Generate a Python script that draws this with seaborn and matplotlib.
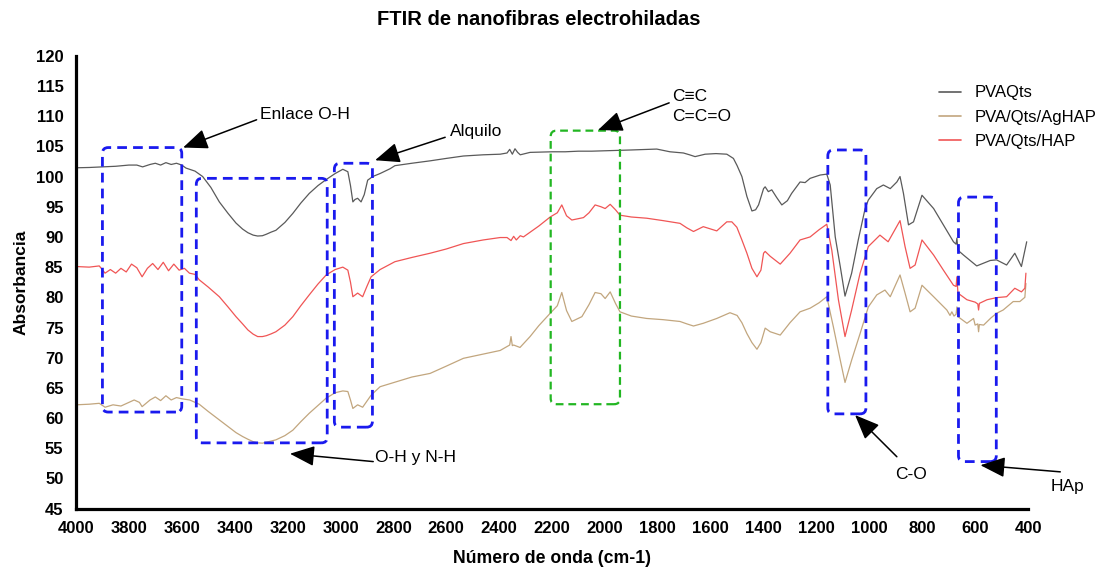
import matplotlib
matplotlib.use("Agg")
import matplotlib.pyplot as plt
from matplotlib.patches import FancyBboxPatch
import seaborn as sns
import pandas as pd

# ---------------- data ----------------
series_names = ["PVAQts", "PVA/Qts/AgHAP", "PVA/Qts/HAP"]

wn_pvaqts = [4000, 3950, 3900, 3850, 3800, 3770, 3748, 3720, 3700, 3680, 3660, 3640, 3620, 3600,
             3584, 3550, 3521, 3490, 3458, 3425, 3395, 3370, 3350, 3330, 3313, 3295, 3280, 3262,
             3244, 3210, 3180, 3150, 3118, 3085, 3054, 3020, 2991, 2972, 2962, 2953, 2945, 2935,
             2922, 2910, 2897, 2878, 2850, 2812, 2794, 2730, 2661, 2600, 2535, 2460, 2396, 2370,
             2360, 2350, 2340, 2330, 2320, 2283, 2200, 2150, 2100, 2050, 1968, 1900, 1804, 1754,
             1703, 1680, 1659, 1621, 1580, 1539, 1514, 1500, 1482, 1463, 1444, 1430, 1419, 1400,
             1394, 1382, 1369, 1350, 1331, 1310, 1294, 1262, 1243, 1224, 1186, 1161, 1148, 1129,
             1110, 1092, 1080, 1067, 1042, 1016, 1004, 972, 947, 921, 896, 884, 871, 852, 833,
             801, 757, 720, 682, 672, 669, 665, 644, 594, 543, 519, 481, 450, 425, 405]
abs_pvaqts = [101.45, 101.5, 101.6, 101.7, 101.9, 101.9, 101.6, 102.0, 102.2, 101.9, 102.3, 102.0,
              102.2, 101.9, 101.4, 100.9, 100.0, 98.2, 95.8, 93.9, 92.3, 91.3, 90.7, 90.3, 90.15,
              90.2, 90.45, 90.8, 91.1, 92.4, 93.9, 95.6, 97.2, 98.5, 99.5, 100.5, 101.2, 100.8,
              98.5, 95.8, 96.2, 96.4, 95.8, 97.0, 99.4, 100.0, 100.5, 101.3, 101.8, 102.2, 102.6,
              103.0, 103.4, 103.6, 103.7, 103.9, 104.5, 103.7, 104.6, 104.0, 103.6, 104.0, 104.1,
              104.1, 104.2, 104.2, 104.3, 104.4, 104.55, 104.1, 103.9, 103.6, 103.3, 103.7, 103.8,
              103.7, 103.0, 101.8, 100.0, 96.7, 94.3, 94.5, 95.3, 98.0, 98.3, 97.5, 97.8, 96.5,
              95.3, 96.0, 97.2, 99.1, 99.0, 99.7, 100.25, 100.4, 98.6, 90.0, 85.1, 80.2, 82.0,
              84.0, 89.5, 94.7, 96.1, 98.0, 98.6, 98.0, 99.1, 100.0, 97.2, 92.0, 92.5, 96.9, 94.7,
              92.0, 89.2, 88.8, 89.8, 87.8, 87.0, 85.2, 86.1, 86.2, 85.35, 87.3, 85.1, 89.2]

wn_aghap = [4000, 3950, 3912, 3890, 3860, 3830, 3800, 3780, 3760, 3750, 3720, 3700, 3680, 3660,
            3640, 3620, 3600, 3570, 3534, 3500, 3458, 3425, 3395, 3370, 3350, 3330, 3313, 3295,
            3280, 3262, 3244, 3210, 3180, 3150, 3118, 3085, 3054, 3020, 2991, 2972, 2962, 2953,
            2935, 2916, 2900, 2884, 2850, 2790, 2730, 2661, 2600, 2535, 2460, 2396, 2360, 2355,
            2350, 2345, 2321, 2283, 2250, 2207, 2180, 2163, 2145, 2125, 2087, 2060, 2037, 2015,
            1999, 1980, 1960, 1943, 1900, 1842, 1780, 1716, 1690, 1665, 1628, 1577, 1527, 1500,
            1482, 1463, 1444, 1425, 1410, 1394, 1375, 1337, 1300, 1262, 1224, 1190, 1161, 1136,
            1110, 1092, 1067, 1035, 1004, 972, 941, 921, 884, 865, 846, 827, 801, 757, 707, 695,
            688, 680, 672, 669, 665, 631, 606, 600, 590, 587, 584, 568, 540, 519, 494, 475, 456,
            431, 412, 408]
abs_aghap = [62.2, 62.3, 62.45, 61.8, 62.2, 62.0, 62.6, 63.0, 62.6, 61.9, 63.0, 63.5, 62.9, 63.7,
             63.0, 63.4, 63.2, 63.0, 62.3, 61.1, 59.7, 58.6, 57.6, 56.95, 56.5, 56.1, 55.9, 55.85,
             56.0, 56.2, 56.4, 57.1, 58.0, 59.4, 60.8, 62.1, 63.3, 64.2, 64.5, 64.4, 63.0, 61.6,
             62.2, 61.8, 62.8, 63.8, 65.2, 66.0, 66.8, 67.4, 68.6, 69.9, 70.6, 71.2, 72.1, 73.5,
             72.0, 72.1, 71.7, 73.5, 75.3, 77.35, 78.6, 80.8, 77.8, 76.0, 76.8, 78.8, 80.8, 80.6,
             79.8, 80.9, 79.0, 77.6, 76.9, 76.5, 76.3, 76.0, 75.6, 75.25, 75.7, 76.5, 77.45, 77.0,
             75.8, 74.0, 72.5, 71.4, 72.5, 74.9, 74.3, 73.75, 75.8, 77.6, 78.2, 79.1, 80.1, 75.1,
             69.6, 65.9, 69.6, 74.0, 78.4, 80.4, 81.2, 80.1, 83.7, 80.7, 77.6, 78.2, 82.0, 80.1,
             77.9, 77.0, 77.6, 76.9, 77.2, 78.4, 76.8, 75.7, 76.5, 75.4, 75.6, 74.3, 75.5, 75.4,
             76.6, 77.35, 77.9, 78.6, 79.3, 79.3, 80.0, 82.3]

wn_hap = [4000, 3950, 3912, 3890, 3870, 3850, 3830, 3810, 3790, 3770, 3750, 3730, 3710, 3690,
          3670, 3650, 3630, 3610, 3590, 3571, 3550, 3534, 3500, 3458, 3425, 3395, 3370, 3350,
          3330, 3313, 3295, 3280, 3262, 3244, 3210, 3180, 3150, 3118, 3085, 3054, 3020, 2991,
          2972, 2962, 2953, 2935, 2916, 2900, 2884, 2850, 2794, 2730, 2661, 2600, 2535, 2460,
          2396, 2370, 2355, 2345, 2335, 2320, 2308, 2250, 2207, 2180, 2163, 2145, 2125, 2081,
          2060, 2037, 2015, 1999, 1980, 1960, 1943, 1900, 1842, 1780, 1716, 1690, 1665, 1628,
          1577, 1539, 1520, 1501, 1482, 1463, 1444, 1425, 1410, 1400, 1394, 1375, 1337, 1300,
          1262, 1224, 1190, 1161, 1142, 1117, 1092, 1067, 1035, 1004, 960, 929, 884, 865, 846,
          827, 801, 757, 720, 682, 672, 669, 665, 631, 600, 590, 587, 584, 555, 519, 481, 450,
          425, 412, 408]
abs_hap = [85.1, 85.0, 85.2, 84.0, 84.6, 84.0, 84.8, 84.2, 85.5, 84.9, 83.4, 84.8, 85.6, 84.6,
           85.8, 84.4, 85.5, 84.5, 84.8, 84.0, 83.8, 82.9, 81.7, 80.1, 78.4, 76.8, 75.6, 74.6,
           73.9, 73.5, 73.5, 73.65, 73.95, 74.3, 75.4, 76.8, 78.6, 80.4, 82.2, 83.7, 84.6, 85.0,
           84.5, 82.5, 80.1, 80.7, 80.1, 81.8, 83.4, 84.6, 85.9, 86.6, 87.3, 88.0, 88.9, 89.5,
           89.9, 89.9, 89.4, 90.1, 89.5, 90.2, 90.0, 91.8, 93.3, 94.0, 95.3, 93.5, 92.8, 93.2,
           94.0, 95.3, 95.0, 94.7, 95.4, 94.5, 93.6, 93.3, 93.1, 92.7, 92.25, 91.5, 90.9, 91.7,
           91.0, 92.5, 92.5, 91.6, 89.5, 87.3, 84.8, 83.4, 84.5, 87.3, 87.6, 86.8, 85.5, 87.3,
           89.5, 90.0, 91.2, 92.1, 87.8, 79.6, 73.5, 77.9, 84.0, 88.4, 90.3, 89.2, 92.7, 88.4,
           84.8, 85.35, 89.5, 87.0, 84.5, 82.0, 81.8, 83.4, 80.7, 79.6, 79.2, 78.9, 77.9, 79.0,
           79.6, 79.95, 80.1, 81.5, 80.9, 81.5, 84.0]

x_ticks = list(range(4000, 399, -200))
y_ticks = list(range(45, 121, 5))

# ---------------- build frame ----------------
frames = []
for name, wn, ab in [(series_names[0], wn_pvaqts, abs_pvaqts),
                     (series_names[1], wn_aghap, abs_aghap),
                     (series_names[2], wn_hap, abs_hap)]:
    frames.append(pd.DataFrame({"wn": wn, "abs": ab, "serie": name}))
df = pd.concat(frames, ignore_index=True)

palette = {"PVAQts": "#5a5a5a", "PVA/Qts/AgHAP": "#c2a67e", "PVA/Qts/HAP": "#f05555"}

sns.set_style("white")
plt.rcParams["font.family"] = ["Liberation Sans", "DejaVu Sans"]
plt.rcParams["text.color"] = "black"
plt.rcParams["axes.labelcolor"] = "black"
plt.rcParams["xtick.color"] = "black"
plt.rcParams["ytick.color"] = "black"

fig = plt.figure(figsize=(11.06, 5.69), dpi=100)
ax = fig.add_axes([0.0687, 0.106, 0.8608, 0.796])

sns.lineplot(data=df, x="wn", y="abs", hue="serie", hue_order=series_names,
             palette=palette, estimator=None, sort=False, linewidth=0.9, ax=ax, legend=True)

ax.set_xlim(4000, 400)
ax.set_ylim(45, 120)
ax.set_xticks(x_ticks)
ax.set_yticks(y_ticks)
ax.tick_params(axis="both", which="major", direction="out", length=6, width=2,
               labelsize=12, pad=3, colors="black")
for lab in ax.get_xticklabels() + ax.get_yticklabels():
    lab.set_fontweight("bold")
for side in ["top", "right"]:
    ax.spines[side].set_visible(False)
for side in ["left", "bottom"]:
    ax.spines[side].set_linewidth(2.3)
    ax.spines[side].set_color("black")

ax.set_xlabel("Número de onda (cm-1)", fontsize=12.7, fontweight="bold", labelpad=10)
ax.set_ylabel("Absorbancia", fontsize=12.5, fontweight="bold", labelpad=5)
fig.text(0.487, 0.965, "FTIR de nanofibras electrohiladas", ha="center", va="center",
         fontsize=14.5, fontweight="bold", color="black")

leg = ax.legend(loc="upper left", bbox_to_anchor=(0.849, 0.85), bbox_transform=fig.transFigure,
                frameon=False, fontsize=12, handlelength=1.3, handletextpad=0.85,
                labelspacing=0.55, borderpad=0, borderaxespad=0)
for h in leg.get_lines():
    h.set_linewidth(1.2)

# ---------------- annotation boxes ----------------
blue = "#1a1aee"
green = "#22b622"
boxes = [  # (x_left_wn, x_right_wn, y_bottom, y_top, color)
    (3900, 3600, 61.0, 104.8, blue),
    (3545, 3050, 55.9, 99.7, blue),
    (3023, 2879, 58.5, 102.2, blue),
    (2205, 1943, 62.3, 107.6, green),
    (1157, 1013, 60.7, 104.4, blue),
    (663, 520, 52.8, 96.6, blue),
]
for x0, x1, y0, y1, col in boxes:
    lw = 2.0 if col == blue else 1.6
    p = FancyBboxPatch((x1, y0), x0 - x1, y1 - y0,
                       boxstyle="round,pad=0,rounding_size=22", mutation_aspect=0.044,
                       fill=False, edgecolor=col, linewidth=lw, linestyle=(0, (3.5, 2.2)),
                       zorder=5)
    ax.add_patch(p)

# ---------------- arrows and labels ----------------
arrow_kw = dict(arrowstyle="-|>,head_length=0.8,head_width=0.33", color="black", lw=1.1,
                mutation_scale=19, shrinkA=0, shrinkB=0)
arrows = [  # (tail, head)
    ((3317, 109.4), (3595, 104.8)),
    ((2604, 106.5), (2869, 102.7)),
    ((1757, 112.2), (2026, 107.7)),
    ((2876, 52.8), (3191, 54.1)),
    ((896, 53.6), (1054, 60.5)),
    ((278, 51.1), (580, 52.2)),
]
for tail, head in arrows:
    ax.annotate("", xy=head, xytext=tail, arrowprops=arrow_kw, annotation_clip=False, zorder=6)

labels = [
    (3304, 110.35, "Enlace O-H"),
    (2585, 107.4, "Alquilo"),
    (1746, 113.2, "C\u2261C"),
    (1746, 109.9, "C=C=O"),
    (2869, 53.4, "O-H y N-H"),
    (902, 50.6, "C-O"),
    (313, 48.6, "HAp"),
]
for x, y, t in labels:
    ax.text(x, y, t, ha="left", va="center", fontsize=12.5, color="black", clip_on=False)

fig.savefig("out.png", dpi=100)
